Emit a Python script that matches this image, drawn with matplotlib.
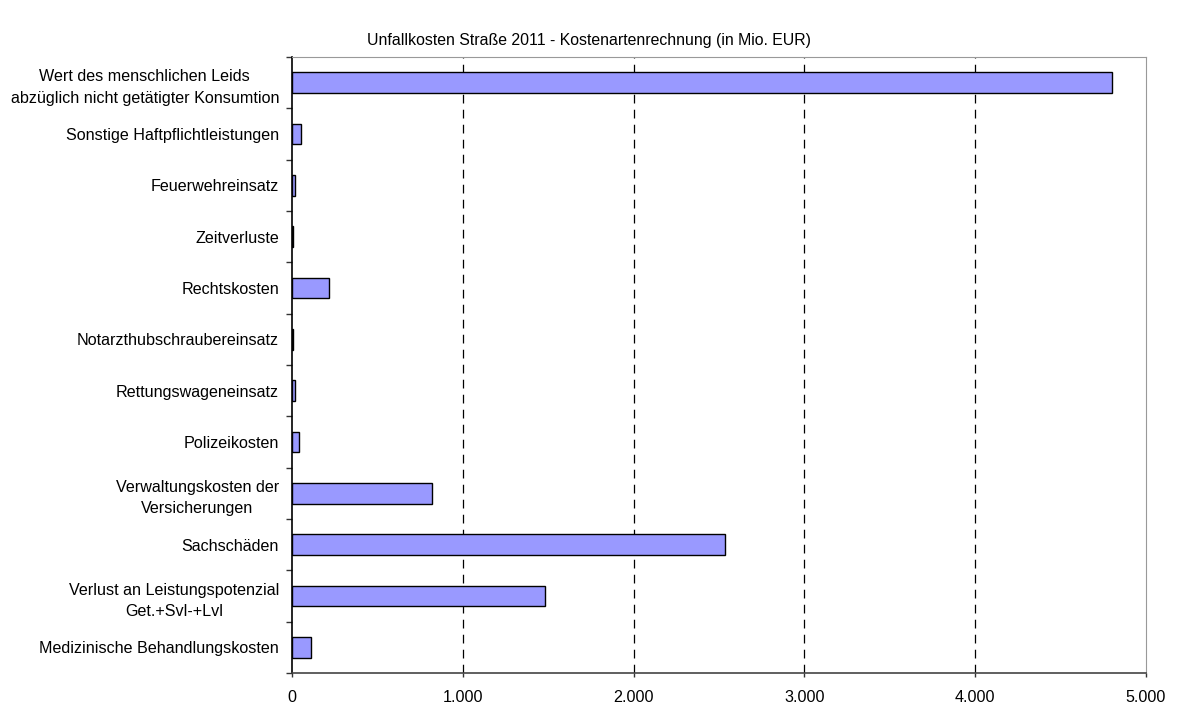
import numpy as np
import matplotlib.pyplot as plt
from matplotlib.ticker import FuncFormatter, FixedLocator

# Unfallkosten Straße 2011 - Kostenarten (Mio. EUR), bottom to top
categories = [
    "Medizinische Behandlungskosten",
    "Verlust an Leistungspotenzial\nGet.+Svl-+Lvl",
    "Sachschäden",
    "Verwaltungskosten der\nVersicherungen",
    "Polizeikosten",
    "Rettungswageneinsatz",
    "Notarzthubschraubereinsatz",
    "Rechtskosten",
    "Zeitverluste",
    "Feuerwehreinsatz",
    "Sonstige Haftpflichtleistungen",
    "Wert des menschlichen Leids\nabzüglich nicht getätigter Konsumtion",
]
values = [113, 1482, 2536, 821, 39, 17, 8, 216, 8, 17, 51, 4801]
x_ticks = [0, 1000, 2000, 3000, 4000, 5000]

plt.rcParams['font.family'] = ['Liberation Sans', 'DejaVu Sans']
fs = 11.6

fig = plt.figure(figsize=(11.78, 7.04), dpi=100)
ax = fig.add_axes([0.2479, 0.044, 0.7249, 0.875])

y = np.arange(len(categories))
ax.barh(y, values, height=0.4, color="#9999FF", edgecolor="black", linewidth=1.0, zorder=3)

ax.set_xlim(0, 5000)
ax.set_ylim(-0.5, len(categories) - 0.5)

# x axis
ax.xaxis.set_major_locator(FixedLocator(x_ticks))
ax.xaxis.set_major_formatter(FuncFormatter(lambda v, p: f"{int(v):,}".replace(",", ".")))
ax.tick_params(axis="x", direction="out", length=3, width=1, colors="#333333", labelsize=fs,
               labelcolor="black", pad=9.5)
for xv in x_ticks[1:-1]:
    ax.axvline(xv, color="black", linestyle=(0, (7, 5)), linewidth=0.9, zorder=1)

# y axis: labels at category centres, tick marks at boundaries
ax.set_yticks(y)
ax.set_yticklabels(categories, multialignment="center", linespacing=1.55)
ax.tick_params(axis="y", which="major", length=0, labelsize=fs, pad=9.3)
ax.set_yticks(np.arange(-0.5, len(categories), 1.0), minor=True)
ax.tick_params(axis="y", which="minor", direction="out", length=4, width=1, color="#333333")

ax.spines["left"].set_color("black")
ax.spines["left"].set_linewidth(1.2)
ax.spines["bottom"].set_color("#444444")
ax.spines["bottom"].set_linewidth(1.2)
ax.spines["top"].set_color("#999999")
ax.spines["right"].set_color("#999999")

fig.text(0.5, 0.943, "Unfallkosten Straße 2011 - Kostenartenrechnung (in Mio. EUR)",
         ha="center", va="center", fontsize=11.4)

fig.savefig("out.png", dpi=100)
